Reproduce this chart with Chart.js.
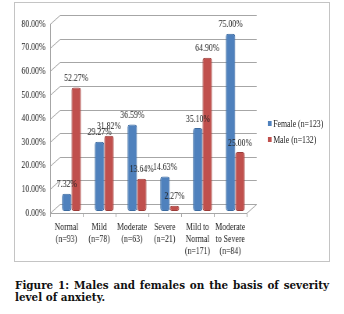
<!DOCTYPE html>
<html>
<head>
<meta charset="utf-8">
<script src="https://cdn.jsdelivr.net/npm/chart.js@4"></script>
<style>
	body { margin: 0; background: #fff; width: 344px; height: 314px; position: relative; font-family: "Liberation Serif", serif; }
	#box { position: absolute; left: 14px; top: 2px; width: 314px; height: 258px; border: 1px solid #c4c4c4; overflow: hidden; }
	#inner { position: absolute; left: 0; top: 0; width: 403px; height: 258px; transform: scaleX(0.78); transform-origin: 0 0; }
	#inner canvas { position: absolute; left: 0; top: 0; }
	.leg { position: absolute; left: 324px; font-size: 10px; line-height: 12px; color: #222; white-space: nowrap; }
	.leg span { display: inline-block; width: 5px; height: 5px; margin-right: 2px; vertical-align: 1px; }
	#caption { position: absolute; left: 15px; top: 279px; width: 314px; font: bold 10.4px "DejaVu Serif", serif; line-height: 12px; color: #111; }
	#caption div { text-align: justify; text-align-last: justify; white-space: nowrap; }
</style>
</head>
<body>
<div id="box">
	<div id="inner">
		<canvas id="myChart" width="403" height="258"></canvas>
		<div class="leg" style="top:115px"><span style="background:#4f81bd"></span>Female (n=123)</div>
		<div class="leg" style="top:131px"><span style="background:#c0504d"></span>Male (n=132)</div>
	</div>
</div>
<div id="caption"><div>Figure 1: Males and females on the basis of severity</div>level of anxiety.</div>
<script>
const categories = [
	["Normal", "(n=93)"],
	["Mild", "(n=78)"],
	["Moderate", "(n=63)"],
	["Severe", "(n=21)"],
	["Mild to", "Normal", "(n=171)"],
	["Moderate", "to Severe", "(n=84)"],
];
const female = [7.32, 29.27, 36.59, 14.63, 35.10, 75.00];
const male = [52.27, 31.82, 13.64, 2.27, 64.90, 25.00];
const yTicks = [0, 10, 20, 30, 40, 50, 60, 70, 80];

// depth of the fake 3d wall
const DX = 12.8, DY = 9;
const BAR_SHIFT = 6.4;

const wallPlugin = {
	id: "wall",
	beforeDatasetsDraw(chart) {
		const c = chart.ctx;
		const a = chart.chartArea;
		const y = chart.scales.y;
		c.save();
		c.strokeStyle = "#a6a6a6";
		c.lineWidth = 1;
		yTicks.forEach((v) => {
			const py = Math.round(y.getPixelForValue(v)) + 0.5;
			c.beginPath();
			c.moveTo(a.left, py);
			c.lineTo(a.left + DX, py - DY);
			c.lineTo(a.right + DX, py - DY);
			c.stroke();
		});
		const p0 = Math.round(y.getPixelForValue(0)) + 0.5;
		c.beginPath();
		c.moveTo(a.left + 0.5, y.getPixelForValue(80));
		c.lineTo(a.left + 0.5, p0);
		c.lineTo(a.right, p0);
		c.lineTo(a.right + DX, p0 - DY);
		c.stroke();
		c.restore();
		c.save();
		c.translate(BAR_SHIFT, -2);
	},
	afterDatasetsDraw(chart) {
		const c = chart.ctx;
		c.restore();
		c.save();
		c.font = "10px 'Liberation Serif'";
		c.fillStyle = "#222";
		c.textAlign = "center";
		c.textBaseline = "middle";
		chart.data.datasets.forEach((ds, i) => {
			chart.getDatasetMeta(i).data.forEach((bar, j) => {
				c.fillText(ds.data[j].toFixed(2) + "%", bar.x + BAR_SHIFT, bar.y - 11);
			});
		});
		c.restore();
	},
};

new Chart(document.getElementById("myChart"), {
	type: "bar",
	data: {
		labels: categories,
		datasets: [
			{ label: "Female (n=123)", data: female, backgroundColor: "#4f81bd", borderColor: "#3b6aa0", borderWidth: 1, borderRadius: 3, borderSkipped: false },
			{ label: "Male (n=132)", data: male, backgroundColor: "#c0504d", borderColor: "#9c3b38", borderWidth: 1, borderRadius: 3, borderSkipped: false },
		],
	},
	options: {
		responsive: false,
		animation: false,
		layout: { padding: { left: 0, right: 106, top: 21, bottom: 0 } },
		datasets: { bar: { categoryPercentage: 0.58, barPercentage: 1 } },
		plugins: { legend: { display: false }, tooltip: { enabled: false } },
		scales: {
			x: {
				grid: { display: true, drawOnChartArea: false, offset: true, tickLength: 4, color: "#a6a6a6" },
				border: { display: false },
				ticks: { color: "#222", font: { family: "Liberation Serif", size: 10 }, padding: 4, maxRotation: 0, autoSkip: false },
				afterFit(scale) { scale.height = 48; },
			},
			y: {
				min: 0,
				max: 80,
				grid: { display: false, drawTicks: false, tickLength: 0 },
				border: { display: false },
				afterBuildTicks(scale) { scale.ticks = yTicks.map((v) => ({ value: v })); },
				ticks: {
					color: "#222",
					font: { family: "Liberation Serif", size: 10 },
					padding: 6,
					callback: (v) => v.toFixed(2) + "%",
				},
				afterFit(scale) { scale.width = 45; },
			},
		},
	},
	plugins: [wallPlugin],
});
</script>
</body>
</html>
